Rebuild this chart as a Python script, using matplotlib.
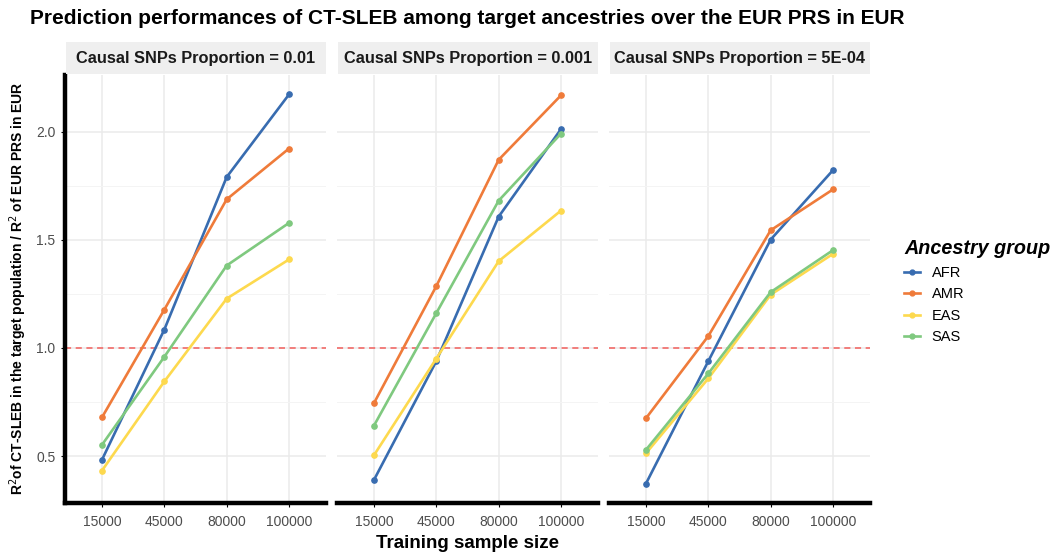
import matplotlib
matplotlib.use("Agg")
import matplotlib.pyplot as plt
from matplotlib.lines import Line2D

plt.rcParams["font.family"] = ["Liberation Sans", "DejaVu Sans"]

sizes = ["15000", "45000", "80000", "100000"]
ancestries = ["AFR", "AMR", "EAS", "SAS"]
colors = {"AFR": "#386CB0", "AMR": "#EF7B3A", "EAS": "#FDD94E", "SAS": "#7FC97F"}
panels = ["Causal SNPs Proportion = 0.01",
          "Causal SNPs Proportion = 0.001",
          "Causal SNPs Proportion = 5E-04"]

# relative R2 per panel, per ancestry, over training sizes
p001 = {"AFR": [0.483, 1.085, 1.790, 2.172],
        "AMR": [0.679, 1.177, 1.687, 1.922],
        "EAS": [0.433, 0.845, 1.228, 1.409],
        "SAS": [0.552, 0.959, 1.381, 1.578]}
p0001 = {"AFR": [0.390, 0.939, 1.607, 2.012],
         "AMR": [0.745, 1.286, 1.870, 2.168],
         "EAS": [0.504, 0.951, 1.401, 1.635],
         "SAS": [0.641, 1.161, 1.681, 1.991]}
p00005 = {"AFR": [0.373, 0.939, 1.501, 1.822],
          "AMR": [0.675, 1.055, 1.544, 1.733],
          "EAS": [0.513, 0.859, 1.246, 1.435],
          "SAS": [0.529, 0.882, 1.258, 1.452]}
data = [p001, p0001, p00005]

W, H = 1060, 554
fig = plt.figure(figsize=(W / 100, H / 100), dpi=100)


def px(x0, y0, x1, y1):
    return [x0 / W, 1 - y1 / H, (x1 - x0) / W, (y1 - y0) / H]


lefts = [64.6, 336.6, 608.6]
pw = 261.8
top, bot = 75, 503
ymin, ymax = 0.283, 2.262
x = list(range(len(sizes)))
TICK = "#4D4D4D"

for i, (name, d) in enumerate(zip(panels, data)):
    x0 = lefts[i]
    ax = fig.add_axes(px(x0, top, x0 + pw, bot))
    ax.set_xlim(-0.6, 3.6)
    ax.set_ylim(ymin, ymax)
    ax.set_yticks([0.5, 1.0, 1.5, 2.0])
    ax.set_yticks([0.75, 1.25, 1.75], minor=True)
    ax.grid(True, which="major", color="#EBEBEB", lw=1.1)
    ax.grid(True, which="minor", axis="y", color="#F4F4F4", lw=0.7)
    ax.set_axisbelow(True)
    ax.set_xticks(x)
    ax.set_xticklabels(sizes)
    for s in ("top", "right"):
        ax.spines[s].set_visible(False)
    ax.spines["bottom"].set_linewidth(3.2)
    ax.spines["left"].set_linewidth(3.2)
    ax.tick_params(axis="x", length=3, width=0.8, color="black", labelsize=10,
                   labelcolor=TICK, pad=6)
    ax.tick_params(axis="y", which="minor", length=0)
    if i == 0:
        ax.tick_params(axis="y", length=3, width=0.8, labelsize=10,
                       labelcolor=TICK)
        ax.yaxis.set_major_formatter(plt.FuncFormatter(lambda v, _: f"{v:.1f}"))
    else:
        ax.spines["left"].set_visible(False)
        ax.tick_params(axis="y", length=0, labelleft=False)

    ax.axhline(1.0, color="#F25F5C", lw=1.1, ls=(0, (4, 3)), zorder=1)
    for a in ancestries:
        ax.plot(x, d[a], color=colors[a], lw=1.9, marker="o", ms=3.8, zorder=3)

    # facet strip
    sx = fig.add_axes(px(x0 + 1, 42, x0 + pw, 74))
    sx.axis("off")
    sx.add_patch(plt.Rectangle((0, 0), 1, 1, facecolor="#EFEFEF",
                               transform=sx.transAxes))
    sx.text(0.5, 0.5, name, transform=sx.transAxes, ha="center", va="center",
            fontsize=11.8, fontweight="bold", color="#1A1A1A")

fig.text(30 / W, 1 - 18 / H,
         "Prediction performances of CT-SLEB among target ancestries over the EUR PRS in EUR",
         ha="left", va="center", fontsize=15, fontweight="bold")
fig.text(467 / W, 1 - 543 / H, "Training sample size", ha="center", va="center",
         fontsize=13.5, fontweight="bold")
fig.text(18 / W, 1 - 288 / H,
         r"R$^2$of CT-SLEB in the target population / R$^2$ of EUR PRS in EUR",
         ha="center", va="center", rotation=90, fontsize=10, fontweight="bold")

handles = [Line2D([0], [0], color=colors[a], lw=1.9, marker="o", ms=3.5)
           for a in ancestries]
leg = fig.legend(handles, ancestries, loc="upper left",
                 bbox_to_anchor=(891 / W, 1 - 226 / H), frameon=False,
                 title="Ancestry group", fontsize=10.5, handlelength=1.1,
                 handletextpad=0.8, labelspacing=0.52,
                 title_fontproperties={"size": 14.2, "weight": "bold",
                                       "style": "italic"})
leg._legend_box.align = "left"

fig.savefig("out.png", dpi=100)
